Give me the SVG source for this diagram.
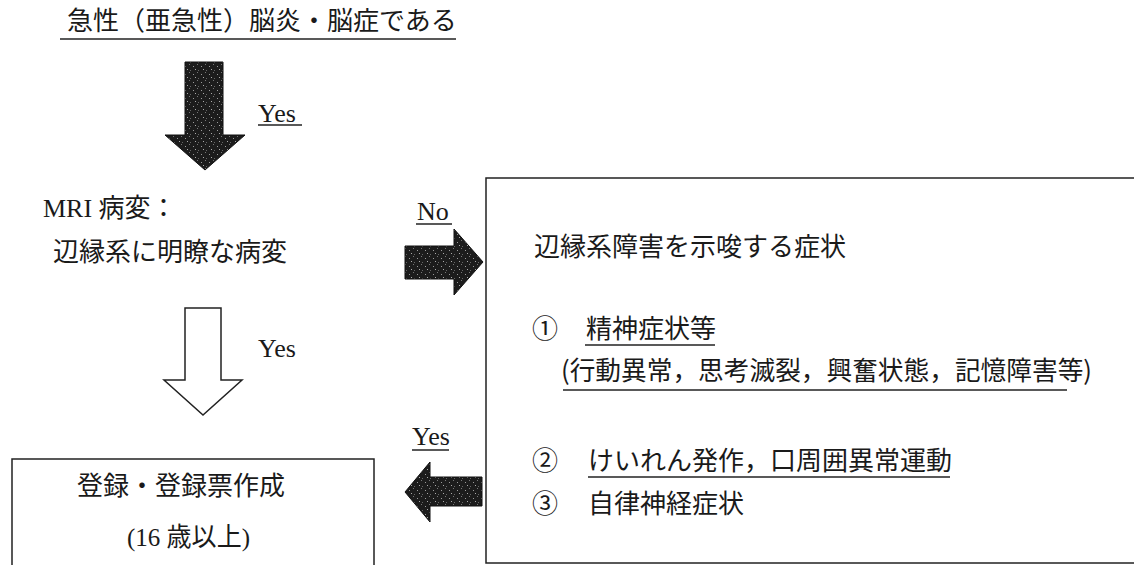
<svg xmlns="http://www.w3.org/2000/svg" width="1134" height="565" viewBox="0 0 1134 565">
<defs>
<style>
.t{font-family:"Liberation Serif","Noto Sans CJK JP",serif;font-size:26px;fill:#1a1a1a}
.j{font-family:"Noto Sans CJK JP","Liberation Sans",sans-serif;font-size:26px;fill:#1a1a1a}
.ul{stroke:#222;stroke-width:1.5;fill:none}
.box{fill:#fff;stroke:#222;stroke-width:1.5}
.dark{fill:url(#stip);stroke:#111;stroke-width:1}
.open{fill:#fff;stroke:#222;stroke-width:1.5}
</style>
<pattern id="stip" width="8" height="8" patternUnits="userSpaceOnUse">
<rect width="8" height="8" fill="#1c1c1c"/>
<rect x="1" y="2" width="1" height="1" fill="#9a9a9a"/>
<rect x="5" y="0" width="1" height="1" fill="#777"/>
<rect x="3" y="5" width="1" height="1" fill="#aaa"/>
<rect x="6" y="6" width="1" height="1" fill="#666"/>
</pattern>
</defs>
<rect width="1134" height="565" fill="#fff"/>

<g id="node-title">
<text class="j" x="67" y="30">急性（亜急性）脳炎・脳症である</text>
<line class="ul" x1="60" y1="39" x2="456" y2="39"/>
</g>

<g id="node-mri">
<text class="t" x="43" y="217">MRI 病変：</text>
<text class="j" x="53" y="261">辺縁系に明瞭な病変</text>
</g>

<g id="node-symptoms">
<rect class="box" x="486" y="178" width="660" height="385"/>
<text class="j" x="534" y="256">辺縁系障害を示唆する症状</text>
<text class="j" x="532" y="338">①</text>
<text class="j" x="586" y="338">精神症状等</text>
<line class="ul" x1="585" y1="345" x2="715" y2="345"/>
<text class="j" x="561" y="380" textLength="531" lengthAdjust="spacingAndGlyphs">(行動異常，思考滅裂，興奮状態，記憶障害等)</text>
<line class="ul" x1="563" y1="390" x2="1067" y2="390"/>
<text class="j" x="532" y="470">②</text>
<text class="j" x="588" y="470">けいれん発作，口周囲異常運動</text>
<line class="ul" x1="588" y1="477" x2="950" y2="477"/>
<text class="j" x="532" y="513">③</text>
<text class="j" x="588" y="513">自律神経症状</text>
</g>

<g id="node-register">
<rect class="box" x="12" y="459" width="362" height="120"/>
<text class="j" x="77" y="495">登録・登録票作成</text>
<text class="t" x="127" y="546" textLength="123" lengthAdjust="spacingAndGlyphs">(16 歳以上)</text>
</g>

<g id="connectors">
<polygon class="dark" points="185,62 223,62 223,135 245,135 205,170 165,135 185,135"/>
<text class="t" x="258" y="122">Yes</text>
<line class="ul" x1="258" y1="125" x2="302" y2="125"/>

<polygon class="dark" points="405,246 454,246 454,229 483,262 454,295 454,279 405,279"/>
<text class="t" x="417" y="220">No</text>
<line class="ul" x1="416" y1="224" x2="452" y2="224"/>

<polygon class="open" points="185,308 221,308 221,380 242,380 203,415 164,380 185,380"/>
<text class="t" x="258" y="357">Yes</text>

<polygon class="dark" points="482,477 430,477 430,462 405,492 430,522 430,506 482,506"/>
<text class="t" x="412" y="445">Yes</text>
<line class="ul" x1="412" y1="450" x2="449" y2="450"/>
</g>
</svg>
